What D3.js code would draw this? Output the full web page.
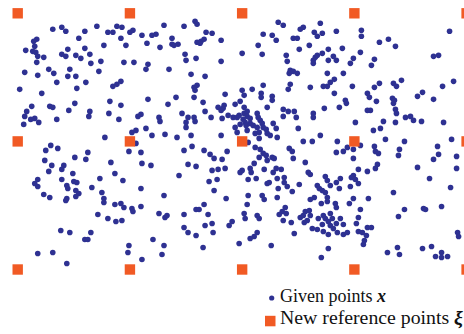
<!DOCTYPE html>
<html>
<head>
<meta charset="utf-8">
<script src="https://cdn.jsdelivr.net/npm/d3@7"></script>
<style>
    body { margin: 0; background: #fff; }
    svg { display: block; }
</style>
</head>
<body>
<script>
// reference grid (xi), same units as the given points
var refX = [0, 112, 224, 336, 448];
var refY = [0, 128, 256];

// given points x (y grows downward)
var givenPoints = [
    [35,16],[44,14],[48,18],[79,13],[99,13],[90,19],[95,19],[67,18],[61,25],[19,26],[16,28],[17,33],[8,37],[15,38],[18,39],[20,43],
    [26,44],[19,49],[44,41],[48,43],[50,36],[58,42],[63,45],[67,35],[72,41],[86,32],[83,48],[73,50],[7,59],[20,62],[31,56],[36,60],
    [52,56],[50,63],[58,63],[39,69],[68,69],[81,58],[59,75],[95,73],[2,76],[24,80],[14,93],[9,98],[7,103],[6,111],[13,106],[17,105],
    [21,109],[32,93],[35,94],[39,106],[51,97],[57,90],[72,98],[71,103],[91,100],[92,88],[87,124],[99,71],
    [104,14],[112,19],[115,17],[124,22],[134,22],[138,21],[146,12],[166,13],[177,8],[179,11],[188,19],[194,20],[103,25],[108,32],
    [129,30],[142,34],[154,25],[154,31],[156,32],[160,31],[179,29],[182,30],[183,28],[186,26],[203,27],[167,41],[168,47],[178,45],
    [203,48],[106,49],[116,49],[130,51],[128,56],[151,56],[173,61],[187,63],[103,68],[176,74],[179,72],[177,77],[176,84],[207,81],
    [158,84],[130,86],[150,91],[103,92],[185,89],[200,94],[203,97],[206,92],[205,95],[164,100],[170,104],[168,109],[168,114],
    [176,104],[177,108],[187,98],[193,104],[204,105],[210,102],[101,106],[120,103],[123,101],[141,104],[142,108],[128,115],
    [114,119],[118,117],[134,122],[147,121],[159,124],[173,122],[203,122],
    [260,9],[265,12],[282,16],[285,14],[302,10],[245,21],[254,22],[258,27],[275,25],[279,25],[296,19],[299,23],[304,20],[318,18],
    [240,32],[224,40],[244,41],[281,36],[291,32],[268,42],[269,48],[295,47],[297,44],[295,50],[299,42],[304,40],[310,36],[310,47],
    [315,43],[318,47],[324,35],[272,57],[271,60],[275,58],[279,60],[309,60],[325,60],[272,71],[270,76],[292,74],[305,73],[309,73],
    [312,69],[316,66],[316,80],[245,72],[234,76],[243,80],[243,84],[224,77],[226,82],[254,83],[254,87],[222,88],[217,91],[226,94],
    [249,94],[327,87],[328,90],[321,94],[306,95],[265,96],[270,98],[276,98],[265,103],[278,104],[295,100],[295,104],[215,104],
    [219,104],[221,102],[226,100],[229,98],[229,103],[232,105],[225,106],[227,109],[222,111],[217,114],[228,112],[232,110],
    [235,112],[239,100],[240,104],[242,107],[244,110],[245,114],[239,114],[229,117],[219,119],[241,119],[248,116],[249,120],
    [255,110],[258,115],[252,122],[259,124],[237,120],[280,115],[302,122],
    [343,17],[343,23],[361,29],[370,26],[377,33],[431,18],[342,39],[335,45],[332,50],[356,46],[353,52],[415,43],[420,42],[334,73],
    [356,74],[361,70],[375,70],[378,73],[383,67],[424,73],[435,68],[349,80],[351,84],[358,88],[374,85],[376,87],[375,90],[404,79],
    [399,83],[415,86],[349,97],[352,97],[377,96],[378,100],[387,104],[392,103],[395,107],[403,108],[377,109],[365,108],[337,109],
    [355,117],[362,115],[425,109],
    [33,132],[28,137],[40,135],[70,139],[57,144],[68,146],[27,147],[34,152],[46,152],[44,156],[31,158],[93,149],[55,160],[97,160],
    [20,166],[17,170],[20,173],[44,166],[49,172],[50,175],[56,168],[59,169],[82,165],[74,174],[58,177],[61,180],[58,183],[84,179],
    [86,185],[86,189],[26,181],[32,184],[49,185],[48,187],[97,191],[80,201],[90,205],[98,208],[43,217],[52,219],[73,219],[67,226],
    [70,226],[20,240],[35,239],[49,250],
    [118,130],[111,138],[123,139],[124,150],[133,152],[166,137],[174,133],[186,137],[192,141],[196,145],[204,146],[209,138],
    [170,151],[178,153],[194,157],[200,156],[207,155],[161,162],[191,168],[199,166],[196,177],[105,167],[123,175],[146,182],
    [208,185],[103,190],[106,194],[114,195],[115,198],[123,193],[141,200],[147,204],[149,202],[166,201],[178,196],[181,196],
    [186,191],[190,201],[104,207],[166,214],[170,219],[178,222],[187,212],[194,210],[195,219],[211,212],[214,208],[135,226],
    [146,232],[144,241],[111,232],[110,239],[124,246],[185,234],
    [230,129],[241,125],[285,128],[294,128],[319,128],[237,134],[242,136],[241,144],[245,140],[248,142],[249,147],[254,144],
    [256,145],[271,135],[274,138],[275,145],[318,139],[325,138],[236,150],[232,155],[233,159],[224,157],[222,159],[246,156],
    [255,159],[258,155],[263,156],[230,166],[238,165],[249,170],[251,169],[259,165],[266,164],[266,169],[269,173],[260,175],
    [287,149],[290,159],[292,161],[281,171],[274,178],[307,163],[309,167],[312,172],[318,169],[322,165],[321,175],[299,172],
    [301,175],[304,177],[307,179],[309,184],[296,184],[292,186],[309,188],[317,190],[318,194],[303,190],[230,182],[244,182],
    [246,186],[259,184],[229,191],[267,194],[264,198],[261,201],[268,200],[265,207],[273,209],[282,204],[285,202],[287,198],
    [291,197],[289,207],[286,209],[292,202],[300,205],[305,202],[307,205],[312,200],[314,205],[310,208],[304,211],[312,212],
    [318,210],[322,205],[325,211],[294,215],[299,216],[305,218],[310,221],[315,215],[319,219],[325,221],[329,219],[226,200],
    [227,205],[239,202],[241,205],[239,219],[236,223],[232,225],[221,230],[253,232],[276,220],[310,235],[303,244],
    [329,134],[335,136],[342,132],[367,126],[386,128],[433,126],[356,133],[357,138],[360,140],[381,136],[380,142],[419,133],
    [420,141],[415,146],[438,143],[335,145],[359,151],[357,155],[340,156],[349,158],[399,154],[438,155],[335,162],[333,164],
    [337,166],[340,170],[332,173],[411,165],[432,174],[375,179],[335,185],[350,185],[331,190],[342,196],[386,196],[405,195],
    [407,196],[423,193],[380,203],[340,204],[338,210],[349,214],[353,214],[340,218],[344,219],[348,222],[346,227],[345,231],
    [439,219],[440,223],[369,239],[379,234],[381,241],[404,235],[413,233],[417,243],[423,239],[423,244],[429,243]
];

var legendLabels = ["Given points ", "New reference points "];
var legendSymbols = ["x", "\u03BE"];

var width = 464, height = 334;
var blue = "#2E3192", orange = "#F15A24";

var x = d3.scaleLinear()
    .domain([0, 448])
    .range([17.7, 466.6]);
var y = d3.scaleLinear()
    .domain([0, 256])
    .range([13.3, 269.5]);

var svg = d3.select("body").append("svg")
    .attr("width", width)
    .attr("height", height);

// given points
svg.append("g")
    .selectAll("circle")
    .data(givenPoints)
    .join("circle")
    .attr("cx", d => x(d[0]))
    .attr("cy", d => y(d[1]))
    .attr("r", 2.8)
    .attr("fill", blue);

// new reference points on the grid
var sq = 10.4;
svg.append("g")
    .selectAll("rect")
    .data(d3.cross(refX, refY))
    .join("rect")
    .attr("x", d => x(d[0]) - sq / 2)
    .attr("y", d => y(d[1]) - sq / 2)
    .attr("width", sq)
    .attr("height", sq)
    .attr("fill", orange);

// legend
var legend = svg.append("g")
    .attr("transform", "translate(270,0)");

legend.append("circle")
    .attr("cx", 1.7)
    .attr("cy", 298)
    .attr("r", 2.6)
    .attr("fill", blue);

legend.append("rect")
    .attr("x", -5)
    .attr("y", 315.8)
    .attr("width", 10.5)
    .attr("height", 10.5)
    .attr("fill", orange);

var fontSizes = [18, 19.8];

var rows = legend.selectAll("text")
    .data(legendLabels)
    .join("text")
    .attr("x", 10)
    .attr("y", (d, i) => 302.4 + i * 21.6)
    .style("font-family", "'Liberation Serif', 'Times New Roman', serif")
    .style("font-size", (d, i) => fontSizes[i] + "px")
    .attr("fill", "#111");

rows.append("tspan").text(d => d);
rows.append("tspan")
    .style("font-weight", "bold")
    .style("font-style", "italic")
    .text((d, i) => legendSymbols[i]);
</script>
</body>
</html>
